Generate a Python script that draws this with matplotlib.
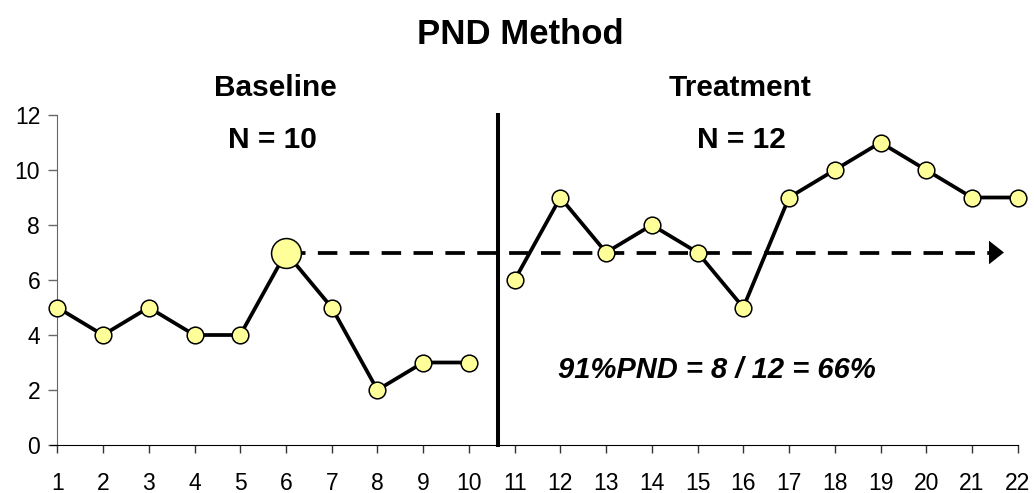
import matplotlib
matplotlib.use("Agg")
import matplotlib.pyplot as plt

plt.rcParams['font.family'] = ['Liberation Sans', 'DejaVu Sans']

baseline_x = [1, 2, 3, 4, 5, 6, 7, 8, 9, 10]
baseline_y = [5, 4, 5, 4, 4, 7, 5, 2, 3, 3]
treat_x = [11, 12, 13, 14, 15, 16, 17, 18, 19, 20, 21, 22]
treat_y = [6, 9, 7, 8, 7, 5, 9, 10, 11, 10, 9, 9]
x_ticks = list(range(1, 23))
y_ticks = [0, 2, 4, 6, 8, 10, 12]
phase_line_x = 10.63
max_baseline = 7
max_x = 6
arrow_end = 21.7

W, H = 1034, 493
fig = plt.figure(figsize=(W / 100, H / 100), dpi=100)
ax = fig.add_axes([57.3 / W, 1 - 445 / H, (1017.7 - 57.3) / W, (445 - 115) / H])

face = '#FFFF99'
lw = 2.7
ax.plot(baseline_x, baseline_y, color='black', lw=lw, marker='o', ms=12,
        mfc=face, mec='black', mew=1.1, zorder=3, clip_on=False)
ax.plot(treat_x, treat_y, color='black', lw=lw, marker='o', ms=12,
        mfc=face, mec='black', mew=1.1, zorder=3, clip_on=False)
ax.plot([max_x], [max_baseline], marker='o', ms=21.5, mfc=face, mec='black',
        mew=1.1, zorder=4, ls='none')

head_len = 0.33
ax.plot([max_x, arrow_end - head_len], [max_baseline, max_baseline], color='black', lw=lw,
        ls=(0, (5.2, 3.3)), zorder=2)
ax.annotate('', xy=(arrow_end, max_baseline), xytext=(arrow_end - head_len, max_baseline),
            arrowprops=dict(arrowstyle='-|>,head_length=1.08,head_width=0.85',
                            color='black', lw=0, shrinkA=0, shrinkB=0),
            zorder=2)

ax.plot([phase_line_x, phase_line_x], [0, 12], color='black', lw=2.9, zorder=2, clip_on=False)

ax.set_xlim(1, 22)
ax.set_ylim(0, 12)
ax.set_xticks(x_ticks)
ax.set_yticks(y_ticks)
ax.tick_params(axis='x', labelsize=16.5, length=6, pad=13.5, width=1, color='#333333')
ax.tick_params(axis='y', labelsize=16.5, length=6.3, pad=6, width=1, color='#666666')
for s in ['top', 'right']:
    ax.spines[s].set_visible(False)
ax.spines['left'].set_color('#666666')
ax.spines['bottom'].set_bounds(0.85, 22)

def label(x, y_base, s, size, style='normal'):
    fig.text(x / W, 1 - y_base / H, s, ha='center', va='baseline', fontsize=size,
             fontweight='bold', fontstyle=style)

label(520, 44.5, 'PND Method', 25)
label(275, 95.5, 'Baseline', 21.5)
label(740, 95.5, 'Treatment', 21.5)
label(272, 148, 'N = 10', 21.5)
label(741, 148, 'N = 12', 21.5)
label(717, 378, '91%PND = 8 / 12 = 66%', 21, 'italic')

fig.savefig('out.png', dpi=100)
